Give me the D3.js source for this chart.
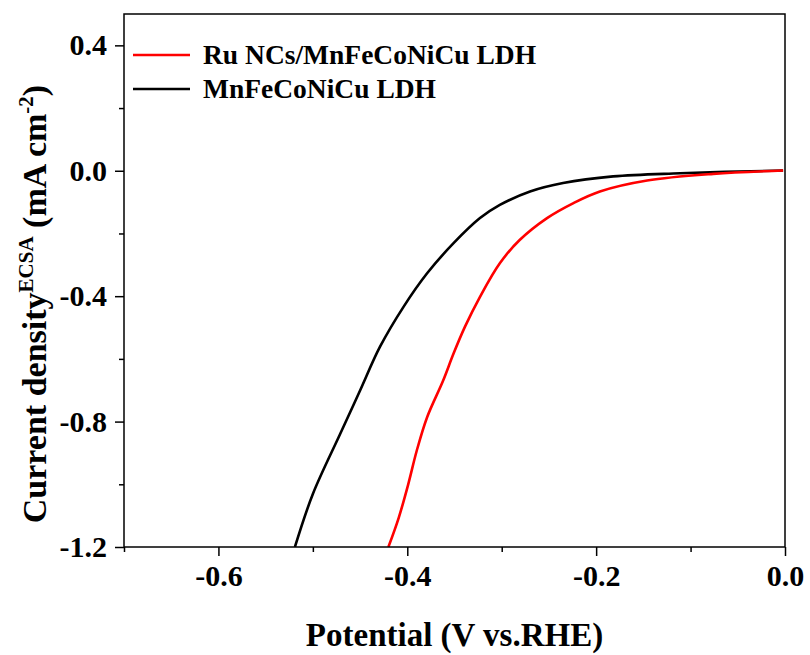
<!DOCTYPE html>
<html>
<head>
<meta charset="utf-8">
<script src="https://cdn.jsdelivr.net/npm/d3@7"></script>
<style>
  body { margin: 0; background: #fff; }
  svg { display: block; }
  text { font-family: "Liberation Serif", "Times New Roman", serif; font-weight: bold; }
</style>
</head>
<body>
<div id="chart"></div>
<script>
  // LSV curves (potential V vs RHE, current density mA cm^-2)
  const ruPotential = [-0.420, -0.409, -0.399, -0.390, -0.379, -0.362, -0.351, -0.339, -0.323, -0.302, -0.281, -0.252, -0.224, -0.196, -0.146, -0.076, -0.002];
  const ruCurrent   = [-1.200, -1.106, -1.000, -0.893, -0.786, -0.669, -0.583, -0.498, -0.402, -0.295, -0.221, -0.151, -0.103, -0.066, -0.031, -0.010, 0.001];
  const ldhPotential = [-0.519, -0.500, -0.471, -0.450, -0.429, -0.404, -0.379, -0.351, -0.323, -0.302, -0.270, -0.235, -0.182, -0.111, -0.002];
  const ldhCurrent   = [-1.200, -1.031, -0.839, -0.701, -0.562, -0.434, -0.327, -0.231, -0.151, -0.109, -0.066, -0.039, -0.018, -0.008, 0.001];

  const seriesNames = ['Ru NCs/MnFeCoNiCu LDH', 'MnFeCoNiCu LDH'];
  const seriesColors = ['#ff0000', '#000000'];

  const xTicks = [-0.6, -0.4, -0.2, 0.0];
  const xMinorTicks = [-0.7, -0.5, -0.3, -0.1];
  const yTicks = [0.4, 0.0, -0.4, -0.8, -1.2];
  const yMinorTicks = [0.2, -0.2, -0.6, -1.0];

  const width = 810, height = 655;
  const margin = { left: 124, right: 25, top: 14, bottom: 108 };

  const svg = d3.select('#chart').append('svg')
    .attr('width', width)
    .attr('height', height);

  const x = d3.scaleLinear().domain([-0.7, 0.0]).range([margin.left, width - margin.right]);
  const y = d3.scaleLinear().domain([-1.2, 0.5]).range([height - margin.bottom, margin.top]);

  svg.append('clipPath').attr('id', 'plotclip')
    .append('rect')
    .attr('x', x.range()[0]).attr('y', y.range()[1])
    .attr('width', x.range()[1] - x.range()[0])
    .attr('height', y.range()[0] - y.range()[1]);

  // Curves (black first so red sits on top)
  const line = d3.line().x(d => x(d[0])).y(d => y(d[1])).curve(d3.curveCatmullRom.alpha(0.5));
  const series = [
    { pts: d3.zip(ldhPotential, ldhCurrent), color: seriesColors[1] },
    { pts: d3.zip(ruPotential, ruCurrent), color: seriesColors[0] }
  ];
  svg.append('g').attr('clip-path', 'url(#plotclip)')
    .selectAll('path')
    .data(series)
    .enter().append('path')
    .attr('d', d => line(d.pts))
    .attr('fill', 'none')
    .attr('stroke', d => d.color)
    .attr('stroke-width', 2.6)
    .attr('stroke-linejoin', 'round');

  // Axes
  const fmt = d => d3.format('.1f')(d).replace('\u2212', '-');
  const xAxis = svg.append('g')
    .attr('transform', `translate(0,${y(-1.2)})`)
    .call(d3.axisBottom(x).tickValues(xTicks).tickFormat(fmt).tickSize(9).tickPadding(9));
  const xMinor = svg.append('g')
    .attr('transform', `translate(0,${y(-1.2)})`)
    .call(d3.axisBottom(x).tickValues(xMinorTicks).tickFormat('').tickSize(5));
  const yAxis = svg.append('g')
    .attr('transform', `translate(${x(-0.7)},0)`)
    .call(d3.axisLeft(y).tickValues(yTicks).tickFormat(fmt).tickSize(9).tickPadding(8));
  const yMinor = svg.append('g')
    .attr('transform', `translate(${x(-0.7)},0)`)
    .call(d3.axisLeft(y).tickValues(yMinorTicks).tickFormat('').tickSize(5));

  [xAxis, xMinor, yAxis, yMinor].forEach(g => {
    g.select('.domain').remove();
    g.selectAll('line').attr('stroke', '#000').attr('stroke-width', 1.5);
    g.selectAll('text').attr('fill', '#000').style('font-size', '30px');
  });

  // Frame
  svg.append('rect')
    .attr('x', x(-0.7)).attr('y', y(0.5))
    .attr('width', x(0) - x(-0.7)).attr('height', y(-1.2) - y(0.5))
    .attr('fill', 'none').attr('stroke', '#000').attr('stroke-width', 1.5);

  // Axis titles
  svg.append('text')
    .attr('x', (x(-0.7) + x(0)) / 2)
    .attr('y', 646)
    .attr('text-anchor', 'middle')
    .style('font-size', '33px')
    .text('Potential (V vs.RHE)');

  const yt = svg.append('text')
    .attr('transform', `translate(46,304) rotate(-90)`)
    .attr('text-anchor', 'middle')
    .style('font-size', '34px');
  yt.append('tspan').text('Current density');
  yt.append('tspan').attr('dy', -13).style('font-size', '21px').text('ECSA');
  yt.append('tspan').attr('dy', 13).text(' (mA cm');
  yt.append('tspan').attr('dy', -13).style('font-size', '21px').text('-2');
  yt.append('tspan').attr('dy', 13).text(')');

  // Legend
  const legend = svg.append('g');
  const legendY = [55, 89];
  seriesNames.forEach((name, i) => {
    legend.append('line')
      .attr('x1', 133).attr('x2', 190)
      .attr('y1', legendY[i]).attr('y2', legendY[i])
      .attr('stroke', seriesColors[i]).attr('stroke-width', 2.6);
    legend.append('text')
      .attr('x', 203).attr('y', legendY[i] + 9)
      .style('font-size', '27.5px')
      .text(name);
  });
</script>
</body>
</html>
